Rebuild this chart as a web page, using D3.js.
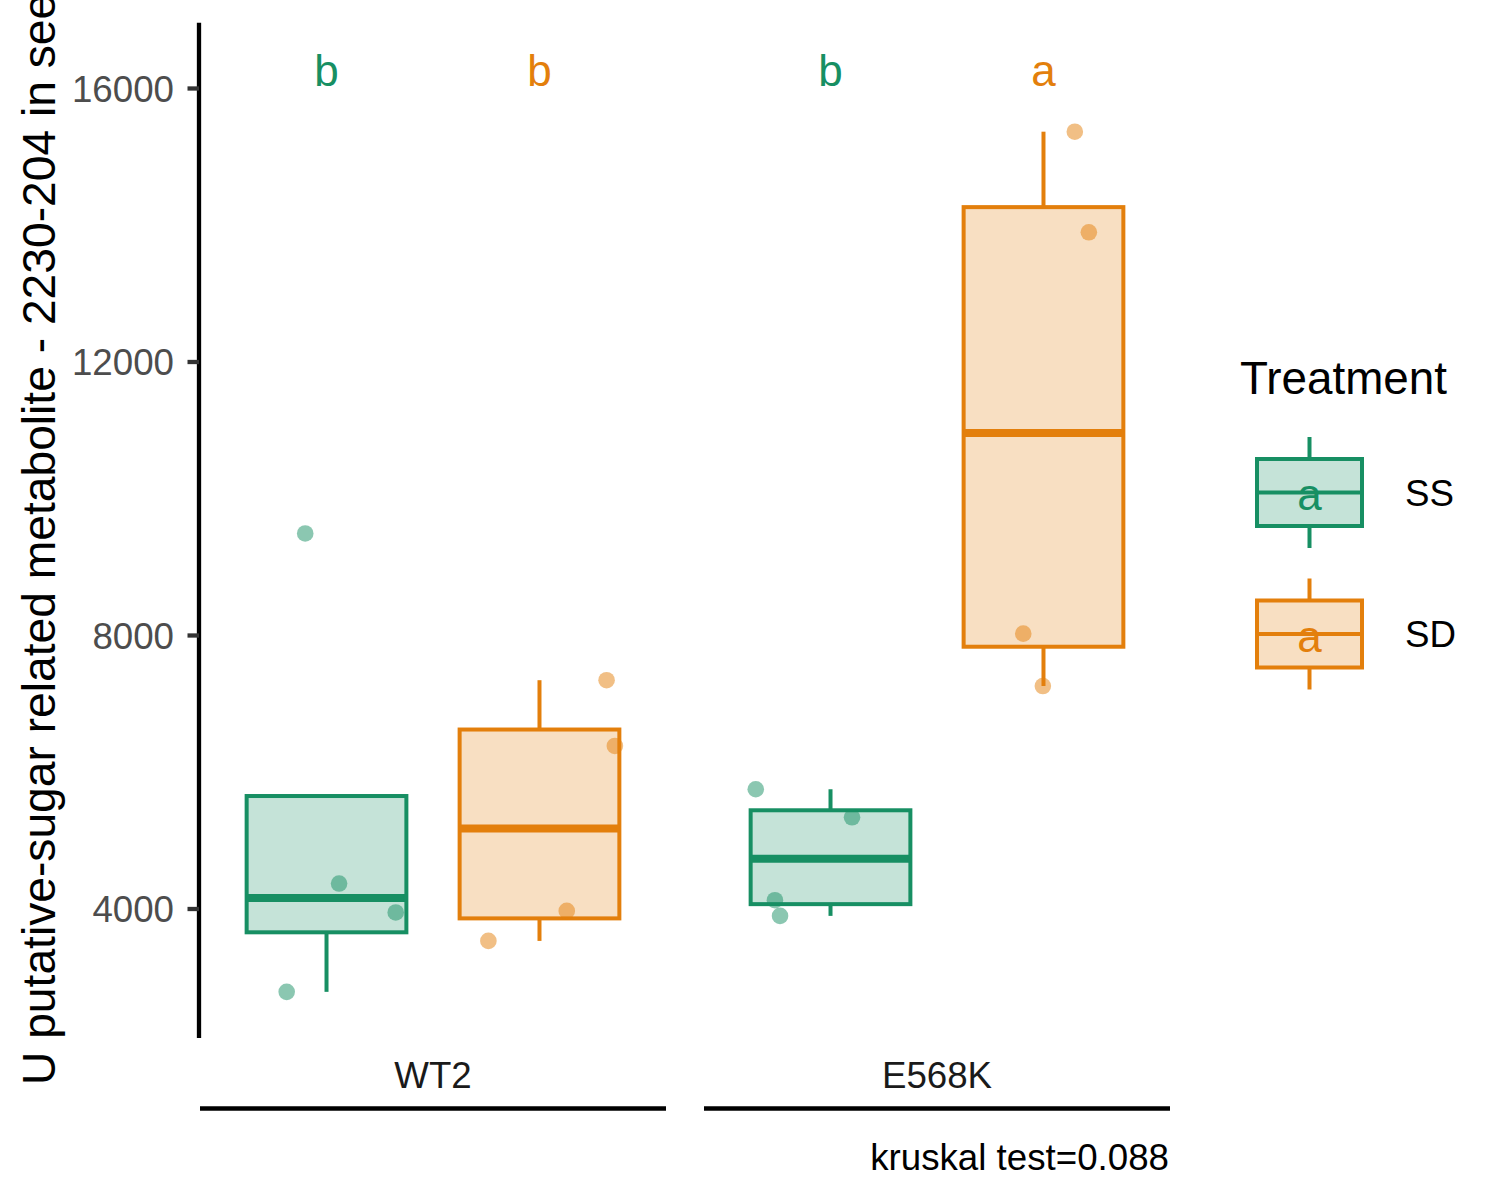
<!DOCTYPE html>
<html>
<head>
<meta charset="utf-8">
<script src="https://cdn.jsdelivr.net/npm/d3@7"></script>
<style>
  html, body { margin: 0; padding: 0; background: #fff; }
  svg { display: block; font-family: "Liberation Sans", Arial, Helvetica, sans-serif; }
</style>
</head>
<body>
<svg id="chart" width="1500" height="1200"></svg>
<script>
// ---------------- data ----------------
const genotypes = ["WT2", "E568K"];
const treatments = ["SS", "SD"];
const treatmentColors = ["#178F63", "#E37F0C"];

const valuesWT2_SS   = [9485, 4365, 3942, 2781];
const valuesWT2_SD   = [7339, 6377, 3965, 3526];
const valuesE568K_SS = [5744, 5334, 4121, 3892];
const valuesE568K_SD = [15361, 13890, 8020, 7254];

// horizontal jitter of each point, in category-step units
const jitterWT2_SS   = [-0.100, 0.059, 0.325, -0.187];
const jitterWT2_SD   = [0.315, 0.354, 0.128, -0.240];
const jitterE568K_SS = [-0.351, 0.101, -0.261, -0.237];
const jitterE568K_SD = [0.147, 0.213, -0.095, -0.003];

const lettersWT2   = ["b", "b"];
const lettersE568K = ["b", "a"];
const letterY = 16280;
const legendLetter = "a";

const yTicks = [4000, 8000, 12000, 16000];
const yTitle = "U putative-sugar related metabolite - 2230-204 in seeds";
const legendTitle = "Treatment";
const caption = "kruskal test=0.088";

// ---------------- build table ----------------
const groups = [
  { genotype: "WT2",   treatment: "SS", values: valuesWT2_SS,   jitter: jitterWT2_SS,   letter: lettersWT2[0] },
  { genotype: "WT2",   treatment: "SD", values: valuesWT2_SD,   jitter: jitterWT2_SD,   letter: lettersWT2[1] },
  { genotype: "E568K", treatment: "SS", values: valuesE568K_SS, jitter: jitterE568K_SS, letter: lettersE568K[0] },
  { genotype: "E568K", treatment: "SD", values: valuesE568K_SD, jitter: jitterE568K_SD, letter: lettersE568K[1] }
];
groups.forEach(g => {
  const s = g.values.slice().sort(d3.ascending);
  g.q1 = d3.quantile(s, 0.25);
  g.med = d3.quantile(s, 0.5);
  g.q3 = d3.quantile(s, 0.75);
  const iqr = g.q3 - g.q1;
  g.lo = d3.min(s.filter(v => v >= g.q1 - 1.5 * iqr));
  g.hi = d3.max(s.filter(v => v <= g.q3 + 1.5 * iqr));
  g.hi = Math.max(g.hi, g.q3);
  g.lo = Math.min(g.lo, g.q1);
});

const color = d3.scaleOrdinal().domain(treatments).range(treatmentColors);

// ---------------- layout ----------------
const svg = d3.select("#chart");
svg.append("rect").attr("width", 1500).attr("height", 1200).attr("fill", "#fff");

const panelTop = 22.7, panelBottom = 1038;
const panelWidth = 466, panelGap = 38, firstLeft = 200;
const panelLeft = d3.scaleOrdinal().domain(genotypes).range([firstLeft, firstLeft + panelWidth + panelGap]);

const allVals = groups.flatMap(g => g.values);
const dLo = d3.min(allVals), dHi = letterY;
const pad = (dHi - dLo) * 0.05;
const y = d3.scaleLinear().domain([dLo - pad, dHi + pad]).range([panelBottom, panelTop]);

const xScales = {};
genotypes.forEach(gt => {
  const l = panelLeft(gt);
  xScales[gt] = d3.scalePoint().domain(treatments).range([l, l + panelWidth]).padding(0.594);
});

// ---------------- boxes ----------------
const plot = svg.append("g");
groups.forEach(g => {
  const x = xScales[g.genotype];
  const cx = x(g.treatment);
  const bw = x.step() * 0.75;
  const c = color(g.treatment);
  const gg = plot.append("g");
  gg.append("line").attr("x1", cx).attr("x2", cx).attr("y1", y(g.q3)).attr("y2", y(g.hi))
    .attr("stroke", c).attr("stroke-width", 4);
  gg.append("line").attr("x1", cx).attr("x2", cx).attr("y1", y(g.q1)).attr("y2", y(g.lo))
    .attr("stroke", c).attr("stroke-width", 4);
  gg.append("rect").attr("x", cx - bw / 2).attr("width", bw)
    .attr("y", y(g.q3)).attr("height", y(g.q1) - y(g.q3))
    .attr("fill", c).attr("fill-opacity", 0.25)
    .attr("stroke", c).attr("stroke-width", 4);
  gg.append("line").attr("x1", cx - bw / 2).attr("x2", cx + bw / 2)
    .attr("y1", y(g.med)).attr("y2", y(g.med))
    .attr("stroke", c).attr("stroke-width", 8);
});

// ---------------- points ----------------
groups.forEach(g => {
  const x = xScales[g.genotype];
  const cx = x(g.treatment);
  plot.append("g").selectAll("circle")
    .data(g.values.map((v, i) => ({ v, j: g.jitter[i] })))
    .join("circle")
    .attr("cx", d => cx + d.j * x.step())
    .attr("cy", d => y(d.v))
    .attr("r", 8.3)
    .attr("fill", color(g.treatment))
    .attr("fill-opacity", 0.5);
});

// ---------------- letters ----------------
groups.forEach(g => {
  const x = xScales[g.genotype];
  plot.append("text")
    .attr("x", x(g.treatment)).attr("y", y(letterY)).attr("dy", "0.4em")
    .attr("text-anchor", "middle").attr("font-size", 44)
    .attr("fill", color(g.treatment))
    .text(g.letter);
});

// ---------------- y axis ----------------
const yAxis = d3.axisLeft(y).tickValues(yTicks).tickSize(11.5).tickSizeOuter(0).tickPadding(13.5)
  .tickFormat(d3.format("d"));
const ax = svg.append("g").attr("transform", `translate(${firstLeft - 1},0)`).call(yAxis);
ax.select(".domain").attr("stroke", "#000").attr("stroke-width", 4.3)
  .attr("d", `M0,${panelTop}V${panelBottom}`);
ax.selectAll(".tick line").attr("stroke", "#333").attr("stroke-width", 4.3);
ax.selectAll(".tick text").attr("fill", "#4D4D4D").attr("font-size", 36.7)
  .attr("font-family", "Liberation Sans, Arial, sans-serif").attr("dy", "0.36em");

// y title (runs past the top edge, as in the reference)
svg.append("text")
  .attr("transform", `translate(55,1085) rotate(-90)`)
  .attr("text-anchor", "start").attr("font-size", 46.2).attr("fill", "#000")
  .text(yTitle);

// ---------------- strips (bottom) ----------------
genotypes.forEach(gt => {
  const l = panelLeft(gt);
  svg.append("text").attr("x", l + panelWidth / 2).attr("y", 1088)
    .attr("text-anchor", "middle").attr("font-size", 36.7).attr("fill", "#1A1A1A")
    .text(gt);
  svg.append("line").attr("x1", l).attr("x2", l + panelWidth)
    .attr("y1", 1108.5).attr("y2", 1108.5)
    .attr("stroke", "#000").attr("stroke-width", 4.3);
});

// caption
svg.append("text").attr("x", panelLeft(genotypes[1]) + panelWidth - 1).attr("y", 1170)
  .attr("text-anchor", "end").attr("font-size", 36.7).attr("fill", "#000")
  .text(caption);

// ---------------- legend ----------------
const legend = svg.append("g");
legend.append("text").attr("x", 1240).attr("y", 394).attr("font-size", 45.8).attr("fill", "#000")
  .text(legendTitle);
const keyCx = 1309.5, keyY0 = 492.5, keyStep = 141.5;
treatments.forEach((t, i) => {
  const cy = keyY0 + i * keyStep;
  const c = color(t);
  const k = legend.append("g");
  k.append("line").attr("x1", keyCx).attr("x2", keyCx).attr("y1", cy - 55.5).attr("y2", cy + 55.5)
    .attr("stroke", c).attr("stroke-width", 4);
  k.append("rect").attr("x", keyCx - 52.5).attr("width", 105)
    .attr("y", cy - 33.5).attr("height", 67)
    .attr("fill", "#fff").attr("stroke", "none");
  k.append("rect").attr("x", keyCx - 52.5).attr("width", 105)
    .attr("y", cy - 33.5).attr("height", 67)
    .attr("fill", c).attr("fill-opacity", 0.25)
    .attr("stroke", c).attr("stroke-width", 4);
  k.append("line").attr("x1", keyCx - 52.5).attr("x2", keyCx + 52.5).attr("y1", cy).attr("y2", cy)
    .attr("stroke", c).attr("stroke-width", 4);
  k.append("text").attr("x", keyCx).attr("y", cy).attr("dy", "0.4em")
    .attr("text-anchor", "middle").attr("font-size", 44).attr("fill", c)
    .text(legendLetter);
  k.append("text").attr("x", 1405).attr("y", cy + 13.2)
    .attr("font-size", 36.7).attr("fill", "#000")
    .text(t);
});
</script>
</body>
</html>
